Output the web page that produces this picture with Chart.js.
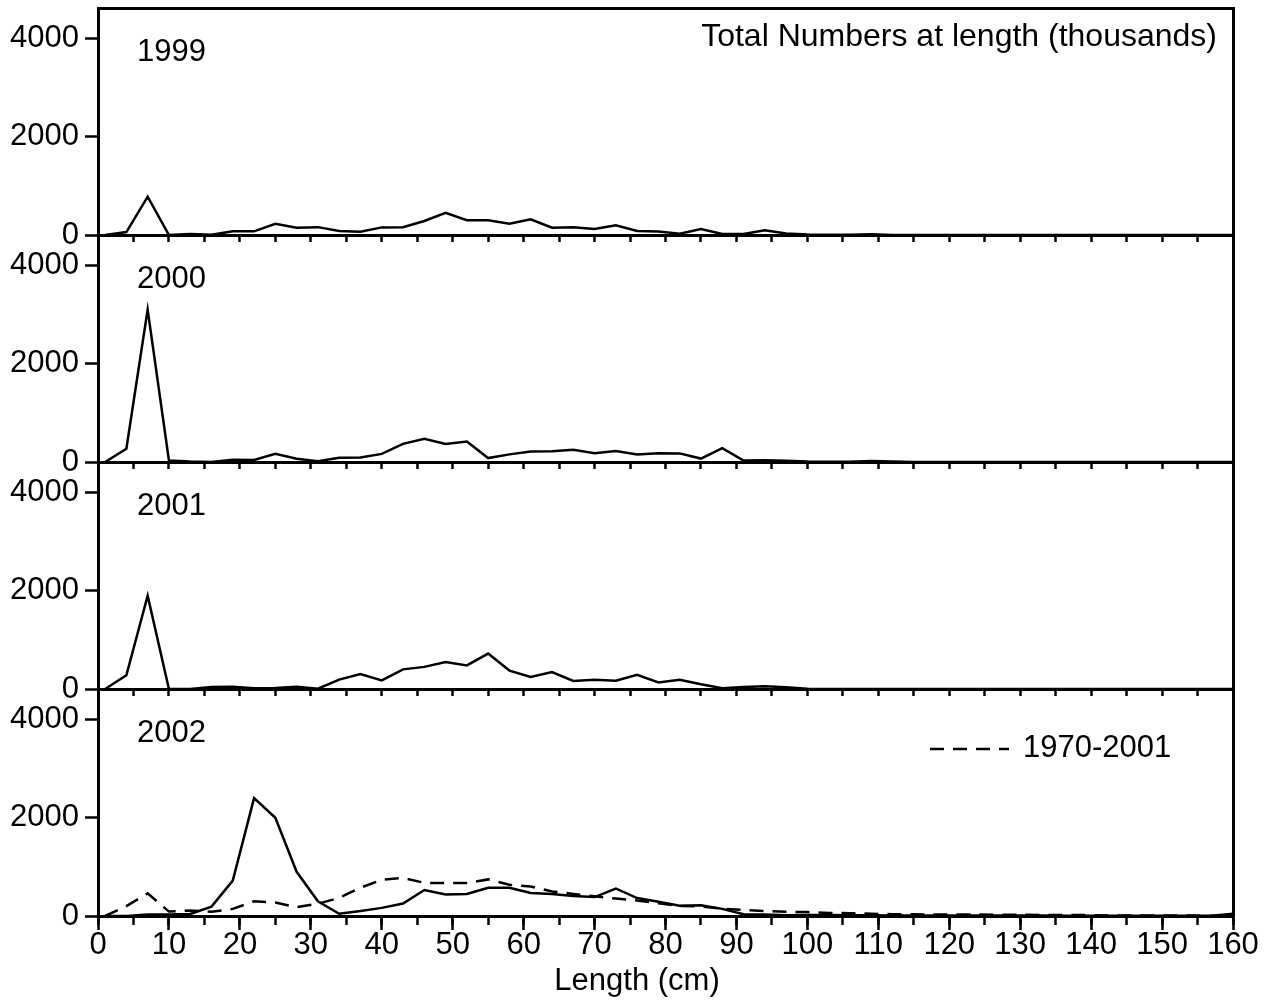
<!DOCTYPE html>
<html lang="en">
<head>
<meta charset="utf-8">
<title>Total Numbers at length (thousands)</title>
<script src="https://cdn.jsdelivr.net/npm/chart.js@4.4.1/dist/chart.umd.min.js"></script>
<style>
  html, body { margin: 0; padding: 0; background: #fff; }
  #figure { position: relative; width: 1268px; height: 1003px; overflow: hidden; }
  #figure canvas { position: absolute; left: 0; }
</style>
</head>
<body>
<div id="figure"></div>
<script>
// length classes (cm), one every 3 cm
const lengths = [1, 4, 7, 10, 13, 16, 19, 22, 25, 28, 31, 34, 37, 40, 43, 46, 49, 52, 55, 58,
  61, 64, 67, 70, 73, 76, 79, 82, 85, 88, 91, 94, 97, 100, 103, 106, 109, 112, 115, 118,
  121, 124, 127, 130, 133, 136, 139, 142, 145, 148, 151, 154, 157, 160];

// total numbers at length (thousands)
const n1999 = [0, 60, 780, 0, 20, 5, 75, 75, 230, 150, 160, 80, 65, 155, 160, 285, 450, 300, 300, 230,
  320, 150, 160, 120, 200, 80, 70, 25, 120, 20, 20, 95, 30, 10, 5, 5, 15, 0, 0, 0,
  0, 0, 0, 0, 0, 0, 0, 0, 0, 0, 0, 0, 0, 0];
const n2000 = [0, 270, 3100, 30, 10, 0, 45, 40, 165, 65, 15, 85, 90, 165, 370, 470, 365, 415, 80, 155,
  215, 220, 250, 180, 225, 155, 180, 175, 70, 280, 30, 35, 25, 10, 5, 5, 20, 10, 0, 0,
  0, 0, 0, 0, 0, 0, 0, 0, 0, 0, 0, 0, 0, 0];
const n2001 = [0, 280, 1900, 0, 0, 40, 45, 15, 20, 45, 5, 190, 305, 175, 400, 450, 550, 480, 720, 375,
  245, 345, 165, 190, 170, 290, 135, 190, 95, 15, 40, 55, 35, 5, 0, 0, 0, 0, 0, 0,
  0, 0, 0, 0, 0, 0, 0, 0, 0, 0, 0, 0, 0, 0];
const n2002 = [0, 0, 30, 30, 40, 190, 720, 2400, 2000, 900, 300, 45, 100, 165, 255, 530, 440, 450, 575, 575,
  470, 450, 405, 385, 560, 365, 290, 210, 220, 145, 35, 30, 15, 20, 20, 15, 15, 10, 10, 10,
  10, 10, 8, 8, 8, 5, 5, 5, 5, 5, 5, 5, 5, 45];
// 1970-2001 average, shown dashed in the 2002 panel
const n1970to2001 = [0, 200, 460, 90, 110, 85, 145, 300, 275, 180, 250, 370, 575, 735, 775, 675, 670, 670, 745, 635,
  600, 500, 450, 400, 355, 315, 260, 205, 195, 145, 125, 100, 85, 80, 60, 58, 45, 38, 35, 30,
  30, 30, 25, 25, 20, 18, 18, 12, 10, 10, 8, 8, 5, 5];

const panelYears = ["1999", "2000", "2001", "2002"];
const refLabel = "1970-2001";
const yTickValues = [0, 2000, 4000];
const yMax = 4620;
const xMin = 0;
const xMax = 160;
const headline = "Total Numbers at length (thousands)";
const xTitle = "Length (cm)";

Chart.defaults.font.family = '"Liberation Sans", Arial, Helvetica, sans-serif';
Chart.defaults.font.size = 31;
Chart.defaults.color = "#000";

const FONT = '31px "Liberation Sans", Arial, Helvetica, sans-serif';
const HEAD_FONT = '32px "Liberation Sans", Arial, Helvetica, sans-serif';
const INK = "#000";
const PANEL_H = 227;
const PAD_T = 8;

function toPoints(values) {
  return values.map((v, i) => ({ x: lengths[i], y: v }));
}

function noPadding(scale) {
  scale.paddingTop = 0;
  scale.paddingBottom = 0;
  scale.paddingLeft = 0;
  scale.paddingRight = 0;
}

// year label, headline, dashed key and x title, drawn inside each panel
const panelText = {
  id: "panelText",
  afterDraw(chart, args, opts) {
    const { ctx, chartArea: a } = chart;
    ctx.save();
    ctx.font = FONT;
    ctx.fillStyle = INK;
    ctx.textBaseline = "alphabetic";
    ctx.textAlign = "left";
    ctx.fillText(opts.year, a.left + 39, a.top + 53);
    if (opts.headline) {
      ctx.font = HEAD_FONT;
      ctx.textAlign = "right";
      ctx.fillText(opts.headline, a.right - 16, a.top + 38);
      ctx.font = FONT;
    }
    if (opts.key) {
      const ds = chart.data.datasets.find(d => d.label === opts.key);
      ctx.strokeStyle = ds.borderColor;
      ctx.lineWidth = ds.borderWidth;
      ctx.setLineDash(ds.borderDash || []);
      ctx.beginPath();
      ctx.moveTo(a.right - 303, a.top + 60);
      ctx.lineTo(a.right - 224, a.top + 60);
      ctx.stroke();
      ctx.setLineDash([]);
      ctx.textAlign = "left";
      ctx.fillText(ds.label, a.right - 210, a.top + 68);
    }
    if (opts.xTitle) {
      ctx.textAlign = "center";
      ctx.fillText(opts.xTitle, chart.width / 2 + 3, chart.height - 13);
    }
    ctx.restore();
  }
};

// top and right edges of the panel box
function frameAxis(position) {
  return {
    type: "linear",
    position: position,
    min: 0,
    max: 1,
    grid: { display: false, drawTicks: false },
    ticks: { display: false },
    border: { display: true, color: INK, width: 3 },
    afterFit: s => {
      if (position === "top") s.height = 0; else s.width = 0;
      noPadding(s);
    }
  };
}

function panelScales(isBottom) {
  const scales = {
    y: {
      type: "linear",
      min: 0,
      max: yMax,
      afterBuildTicks: s => { s.ticks = yTickValues.map(v => ({ value: v })); },
      grid: { drawOnChartArea: false, tickLength: 13, tickWidth: 2.5, tickColor: INK },
      border: { display: true, color: INK, width: 3 },
      ticks: { padding: 6, color: INK, callback: v => String(v) },
      afterFit: s => { s.width = 98; noPadding(s); }
    },
    xTop: frameAxis("top"),
    yRight: frameAxis("right")
  };
  if (!isBottom) {
    scales.x = {
      type: "linear",
      position: "bottom",
      min: xMin,
      max: xMax,
      ticks: { display: false, stepSize: 5 },
      grid: { drawOnChartArea: false, tickLength: 7, tickWidth: 2.5, tickColor: INK },
      border: { display: true, color: INK, width: 3 },
      afterFit: s => { s.height = 10; noPadding(s); }
    };
  } else {
    scales.xMinor = {
      type: "linear",
      position: "bottom",
      weight: 0,
      min: xMin,
      max: xMax,
      ticks: { display: false, stepSize: 5 },
      grid: { drawOnChartArea: false, tickLength: 9, tickWidth: 2.5, tickColor: INK },
      border: { display: true, color: INK, width: 3 },
      afterFit: s => { s.height = 0; noPadding(s); }
    };
    scales.x = {
      type: "linear",
      position: "bottom",
      weight: 1,
      min: xMin,
      max: xMax,
      ticks: {
        stepSize: 10, padding: 0, maxRotation: 0, autoSkip: false, color: INK,
        font: { size: 31, lineHeight: 1 },
        callback: v => String(v)
      },
      grid: { drawOnChartArea: false, tickLength: 14, tickWidth: 2.5, tickColor: INK },
      border: { display: false },
      afterFit: s => { s.height = 87; noPadding(s); }
    };
  }
  return scales;
}

const panels = [
  { year: panelYears[0], series: [{ label: panelYears[0], values: n1999 }], headline: headline },
  { year: panelYears[1], series: [{ label: panelYears[1], values: n2000 }] },
  { year: panelYears[2], series: [{ label: panelYears[2], values: n2001 }] },
  { year: panelYears[3], series: [
      { label: panelYears[3], values: n2002 },
      { label: refLabel, values: n1970to2001, dash: [14, 9] }
    ], key: refLabel, xTitle: xTitle }
];

const figure = document.getElementById("figure");

panels.forEach((p, i) => {
  const isBottom = i === panels.length - 1;
  const top = PANEL_H * i;
  const height = isBottom ? 1003 - top : PAD_T + PANEL_H + 16;

  const canvas = document.createElement("canvas");
  canvas.width = 1268;
  canvas.height = height;
  canvas.style.top = top + "px";
  figure.appendChild(canvas);

  new Chart(canvas.getContext("2d"), {
    type: "line",
    data: {
      datasets: p.series.map(s => ({
        label: s.label,
        data: toPoints(s.values),
        xAxisID: "x",
        yAxisID: "y",
        borderColor: INK,
        borderWidth: 2.5,
        borderDash: s.dash || [],
        pointRadius: 0,
        tension: 0,
        fill: false
      }))
    },
    options: {
      responsive: false,
      animation: false,
      events: [],
      devicePixelRatio: 1,
      layout: { padding: { top: PAD_T, left: 0, right: 35, bottom: isBottom ? 0 : 6 } },
      scales: panelScales(isBottom),
      plugins: {
        legend: { display: false },
        tooltip: { enabled: false },
        panelText: { year: p.year, headline: p.headline, key: p.key, xTitle: p.xTitle }
      }
    },
    plugins: [panelText]
  });
});
</script>
</body>
</html>
